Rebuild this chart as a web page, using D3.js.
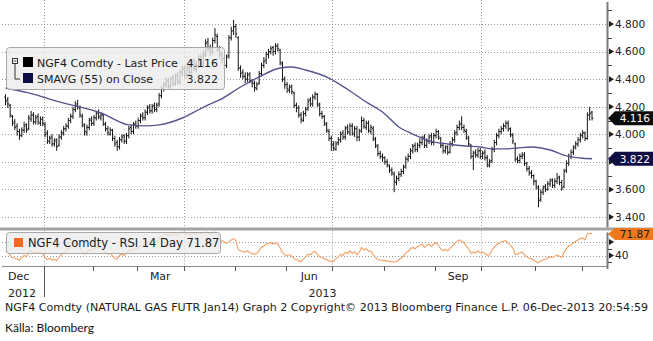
<!DOCTYPE html>
<html>
<head>
<meta charset="utf-8">
<script src="https://cdn.jsdelivr.net/npm/d3@7"></script>
<style>
  body { margin: 0; background: #fff; }
  svg { display: block; }
  text { font-family: "DejaVu Sans", sans-serif; }
</style>
</head>
<body>
<svg id="chart" width="653" height="341"></svg>
<script>
// NGF4 daily OHLC, 06-Dec-2012 .. 06-Dec-2013 (one entry per trading day)
const open = [
  4.27,4.25,4.21,4.13,4.09,4.06,4.02,3.99,4.03,4.07,4.04,4.11,4.14,4.09,4.13,4.08,4.11,
  4.07,4.01,3.95,3.98,3.93,3.96,3.92,3.98,4.01,4.04,4.06,4.10,4.13,4.18,4.22,4.19,4.13,4.06,4.01,4.05,4.11,
  4.08,4.12,4.16,4.12,4.14,4.07,4.04,4.00,4.03,3.97,3.94,3.91,3.96,3.99,3.95,3.99,4.05,4.02,4.08,
  4.06,4.10,4.14,4.12,4.16,4.20,4.17,4.21,4.18,4.22,4.28,4.33,4.36,4.39,4.35,4.41,4.37,4.43,4.38,4.45,
  4.48,4.43,4.49,4.45,4.53,4.47,4.50,4.56,4.51,4.58,4.67,4.62,4.60,4.68,4.71,4.61,4.58,4.55,4.50,4.57,4.70,4.75,
  4.78,4.70,4.48,4.45,4.42,4.40,4.44,4.38,4.37,4.33,4.37,4.44,4.50,4.54,4.58,4.60,4.63,4.60,4.64,4.61,4.51,4.40,
  4.36,4.32,4.35,4.30,4.21,4.19,4.14,4.10,4.15,4.19,4.25,4.22,4.27,4.29,4.21,4.15,4.13,4.07,4.02,3.97,
  3.93,3.89,3.94,3.96,4.01,3.98,4.05,4.01,4.06,4.00,4.04,3.98,4.03,4.10,4.05,4.08,4.02,4.04,3.96,3.91,3.86,3.84,
  3.83,3.80,3.77,3.74,3.71,3.65,3.68,3.71,3.73,3.77,3.82,3.84,3.88,3.92,3.89,3.92,3.94,3.98,3.92,3.95,3.99,3.94,
  3.99,4.02,3.97,3.92,3.88,3.91,3.87,3.93,3.96,4.01,4.05,4.08,4.05,4.02,3.97,3.92,3.84,3.87,3.85,3.88,
  3.84,3.87,3.83,3.77,3.81,3.89,3.94,3.99,4.02,4.04,4.06,4.08,4.04,3.99,3.93,3.82,3.81,3.84,3.85,3.79,3.75,3.72,3.70,
  3.66,3.61,3.53,3.58,3.62,3.60,3.64,3.67,3.63,3.66,3.69,3.65,3.62,3.74,3.79,3.84,3.87,3.91,3.93,3.96,
  3.99,4.01,3.97,4.14,4.16
];
const high = [
  4.29,4.27,4.22,4.14,4.11,4.08,4.04,4.05,4.09,4.08,4.14,4.17,4.16,4.14,4.15,4.13,4.13,
  4.09,4.03,3.99,4.00,3.97,3.97,4.00,4.03,4.06,4.08,4.12,4.15,4.20,4.24,4.25,4.21,4.15,4.08,4.07,4.12,4.13,
  4.14,4.17,4.18,4.16,4.15,4.09,4.06,4.05,4.04,3.99,3.96,3.98,4.00,4.00,4.01,4.06,4.07,4.09,4.10,
  4.12,4.15,4.16,4.18,4.21,4.22,4.22,4.23,4.23,4.30,4.35,4.38,4.41,4.41,4.42,4.43,4.44,4.45,4.47,4.50,
  4.50,4.50,4.51,4.54,4.55,4.53,4.58,4.58,4.61,4.69,4.70,4.65,4.70,4.77,4.73,4.64,4.60,4.57,4.58,4.72,4.78,4.83,
  4.80,4.71,4.50,4.47,4.45,4.45,4.45,4.40,4.39,4.38,4.46,4.52,4.56,4.60,4.62,4.64,4.64,4.66,4.66,4.62,4.53,4.42,
  4.38,4.36,4.36,4.31,4.23,4.21,4.16,4.17,4.20,4.26,4.27,4.29,4.31,4.30,4.23,4.17,4.14,4.09,4.04,3.99,
  3.95,3.95,3.98,4.02,4.03,4.06,4.07,4.08,4.08,4.06,4.06,4.04,4.13,4.12,4.10,4.10,4.07,4.06,3.98,3.93,3.88,3.86,
  3.84,3.82,3.78,3.76,3.73,3.70,3.73,3.75,3.78,3.84,3.86,3.90,3.93,3.94,3.94,3.97,3.99,4.00,3.97,4.00,4.01,4.01,
  4.04,4.03,3.98,3.94,3.92,3.92,3.95,3.98,4.03,4.07,4.10,4.13,4.07,4.04,3.99,3.93,3.88,3.89,3.90,3.90,
  3.88,3.89,3.85,3.82,3.91,3.96,4.01,4.04,4.06,4.08,4.10,4.10,4.05,4.01,3.94,3.84,3.86,3.87,3.87,3.80,3.77,3.74,3.71,
  3.67,3.63,3.60,3.63,3.64,3.66,3.68,3.68,3.68,3.72,3.70,3.67,3.75,3.81,3.86,3.89,3.92,3.95,3.98,4.01,
  4.03,4.02,4.16,4.20,4.17
];
const low = [
  4.21,4.19,4.12,4.06,4.03,3.99,3.96,3.98,4.01,4.01,4.03,4.09,4.07,4.07,4.07,4.06,4.06,
  3.98,3.93,3.93,3.91,3.91,3.88,3.91,3.96,3.99,4.02,4.04,4.08,4.11,4.16,4.18,4.12,4.05,3.99,3.99,4.03,4.06,
  4.06,4.10,4.11,4.10,4.06,4.02,3.99,3.99,3.95,3.91,3.88,3.89,3.94,3.93,3.93,3.97,4.00,4.00,4.04,
  4.04,4.08,4.10,4.10,4.14,4.15,4.15,4.16,4.16,4.20,4.26,4.31,4.34,4.33,4.33,4.35,4.35,4.36,4.36,4.42,
  4.40,4.41,4.43,4.43,4.46,4.45,4.48,4.50,4.49,4.56,4.60,4.57,4.58,4.66,4.60,4.55,4.52,4.47,4.48,4.55,4.68,4.72,
  4.70,4.46,4.41,4.40,4.37,4.38,4.37,4.34,4.31,4.32,4.36,4.42,4.48,4.51,4.55,4.58,4.57,4.58,4.60,4.50,4.38,4.33,
  4.30,4.30,4.29,4.19,4.16,4.12,4.08,4.09,4.13,4.17,4.20,4.20,4.25,4.20,4.13,4.11,4.06,4.01,3.95,3.88,
  3.88,3.88,3.92,3.94,3.96,3.96,4.00,3.99,3.99,3.98,3.95,3.95,4.01,4.04,4.03,4.01,4.00,3.95,3.90,3.84,3.82,3.80,
  3.78,3.76,3.72,3.70,3.58,3.63,3.66,3.69,3.71,3.75,3.80,3.82,3.86,3.87,3.87,3.90,3.92,3.90,3.90,3.93,3.92,3.92,
  3.97,3.96,3.90,3.86,3.86,3.85,3.86,3.91,3.94,3.99,4.03,4.03,4.01,3.96,3.91,3.82,3.74,3.83,3.83,3.82,
  3.82,3.81,3.76,3.76,3.79,3.87,3.92,3.97,4.00,4.02,4.04,4.02,3.98,3.93,3.80,3.79,3.79,3.82,3.77,3.73,3.70,3.68,3.63,
  3.60,3.47,3.51,3.56,3.58,3.59,3.62,3.61,3.61,3.64,3.63,3.59,3.61,3.72,3.77,3.82,3.85,3.89,3.91,3.94,
  3.97,3.95,3.96,4.10,4.10
];
const close = [
  4.24,4.22,4.14,4.08,4.05,4.02,3.99,4.03,4.06,4.03,4.12,4.14,4.09,4.12,4.09,4.11,4.08,
  4.00,3.95,3.97,3.93,3.95,3.91,3.98,4.01,4.04,4.06,4.10,4.13,4.18,4.21,4.20,4.14,4.07,4.02,4.05,4.10,4.08,
  4.12,4.15,4.13,4.14,4.08,4.04,4.01,4.03,3.97,3.93,3.91,3.96,3.98,3.95,3.99,4.04,4.02,4.07,4.06,
  4.10,4.13,4.12,4.16,4.19,4.17,4.20,4.18,4.21,4.28,4.33,4.36,4.38,4.35,4.40,4.37,4.42,4.38,4.45,4.47,
  4.43,4.48,4.45,4.52,4.48,4.50,4.55,4.52,4.58,4.66,4.62,4.60,4.68,4.72,4.62,4.58,4.55,4.50,4.56,4.70,4.75,4.78,
  4.73,4.48,4.44,4.42,4.40,4.43,4.39,4.37,4.34,4.36,4.44,4.50,4.53,4.58,4.60,4.62,4.60,4.64,4.62,4.52,4.40,4.36,
  4.33,4.34,4.31,4.21,4.19,4.14,4.11,4.15,4.18,4.24,4.22,4.27,4.29,4.22,4.15,4.13,4.08,4.03,3.97,3.92,
  3.90,3.93,3.96,4.00,3.98,4.04,4.02,4.06,4.01,4.04,3.98,4.02,4.10,4.06,4.08,4.03,4.05,3.97,3.92,3.86,3.84,3.83,
  3.80,3.78,3.74,3.72,3.66,3.68,3.71,3.73,3.76,3.82,3.84,3.88,3.91,3.89,3.92,3.94,3.97,3.92,3.95,3.98,3.94,3.99,
  4.02,3.98,3.92,3.88,3.90,3.87,3.93,3.96,4.01,4.05,4.07,4.05,4.03,3.98,3.93,3.84,3.86,3.85,3.88,3.84,
  3.86,3.83,3.78,3.80,3.89,3.94,3.99,4.02,4.04,4.06,4.08,4.04,4.00,3.95,3.82,3.81,3.84,3.85,3.79,3.75,3.72,3.70,3.66,
  3.62,3.52,3.58,3.61,3.60,3.64,3.66,3.63,3.66,3.68,3.65,3.61,3.73,3.79,3.84,3.87,3.90,3.93,3.96,3.99,
  4.01,3.97,4.14,4.15,4.116
];
// 14-day RSI, one value per trading day
const rsi = [
  47,45,40,37,36,35,33,37,40,38,45,47,43,46,43,45,42,
  37,34,36,33,35,32,38,41,44,46,50,52,56,58,57,52,46,42,45,49,47,
  50,53,51,52,47,44,42,44,39,36,35,40,42,40,44,48,46,50,49,
  52,55,54,57,60,58,61,59,61,66,69,71,72,69,72,70,73,70,74,75,
  71,73,71,74,72,72,74,72,74,75,73,72,74,75,70,64,62,60,58,61,63,65,
  62,49,47,46,45,47,44,43,42,43,48,52,54,57,58,59,57,59,57,51,44,41,
  40,41,39,35,34,32,31,35,38,42,41,45,46,42,38,37,35,34,32,31,
  32,35,38,42,40,45,43,47,43,46,41,45,52,48,50,46,47,41,37,34,33,33,
  32,32,31,31,30,31,34,36,39,44,46,50,52,50,53,55,57,52,55,57,53,57,
  59,55,50,47,49,47,51,54,58,61,63,61,59,54,50,43,45,44,47,44,
  45,43,40,41,48,52,56,58,60,61,62,58,55,51,42,42,44,45,41,38,36,35,33,
  31,29,32,34,34,37,38,37,39,41,39,37,45,50,54,56,59,61,63,65,
  66,63,72,73,71.87
];
// 55-day simple moving average of the close, sampled at trading-day indices
const smaIndex = [0,10,23,41,53,60,66,76,86,92,101,109,118,123,129,139,148,155,162,169,175,182,190,198,204,209,215,220,226,234,241,247,252];
const smaValue = [4.336,4.300,4.235,4.155,4.068,4.061,4.068,4.118,4.205,4.249,4.343,4.416,4.481,4.488,4.466,4.408,4.314,4.234,4.162,4.053,4.002,3.952,3.930,3.915,3.908,3.894,3.894,3.901,3.908,3.886,3.843,3.828,3.822];

const priceTicks = [3.4, 3.6, 3.8, 4.0, 4.2, 4.4, 4.6, 4.8];
const priceMinor = [3.5, 3.7, 3.9, 4.1, 4.3, 4.5, 4.7, 4.9];
const rsiTicks = [40, 60];
const rsiMinor = [30, 50];
const exchangeHolidays = ["2012-12-25","2013-01-01","2013-01-21","2013-02-18","2013-03-29","2013-05-27","2013-07-04","2013-09-02","2013-11-28"];
const monthNames = ["Jan","Feb","Mar","Apr","May","Jun","Jul","Aug","Sep","Oct","Nov","Dec"];
const labelledMonths = [11, 2, 5, 8];

const lastPrice = close[close.length - 1];
const lastSma = smaValue[smaValue.length - 1];
const lastRsi = rsi[rsi.length - 1];

// trading calendar
const fmtDay = d3.timeFormat("%Y-%m-%d");
const holidaySet = new Set(exchangeHolidays);
const days = d3.timeDay.range(new Date(2012, 11, 6), new Date(2013, 11, 7))
  .filter(d => d.getDay() !== 0 && d.getDay() !== 6 && !holidaySet.has(fmtDay(d)));

const W = 653, H = 341;
const AX = 607;                       // right axis position
const MAIN_TOP = 0, MAIN_BOT = 227.5;
const RSI_TOP = 230.5, RSI_BOT = 266;

const x = d3.scaleLinear().domain([0, days.length - 1]).range([5.5, 592]);
const step = x(1) - x(0);
const y = d3.scaleLinear().domain([3.4, 4.8]).range([217, 24]);
const yr = d3.scaleLinear().domain([40, 60]).range([255.5, 242]);

const svg = d3.select("#chart");
svg.append("rect").attr("width", W).attr("height", H).attr("fill", "#fff");

const defs = svg.append("defs");
defs.append("clipPath").attr("id", "clipMain").append("rect")
  .attr("x", 0).attr("y", MAIN_TOP).attr("width", AX).attr("height", MAIN_BOT - MAIN_TOP);
defs.append("clipPath").attr("id", "clipRsi").append("rect")
  .attr("x", 0).attr("y", RSI_TOP + 1).attr("width", AX).attr("height", RSI_BOT - RSI_TOP - 1);

// month boundaries
const bounds = [];
for (let i = 1; i < days.length; i++) {
  if (days[i].getMonth() !== days[i - 1].getMonth()) bounds.push({ i, m: days[i].getMonth(), xb: x(i) - step / 2 });
}
const quarterBounds = bounds.filter(b => b.m % 3 === 0);

const grid = svg.append("g").attr("stroke", "#9a9a9a").attr("stroke-width", 1).attr("stroke-dasharray", "1,2");
grid.selectAll("line.hp").data(priceTicks).join("line")
  .attr("x1", 2).attr("x2", AX).attr("y1", d => Math.round(y(d)) + 0.5).attr("y2", d => Math.round(y(d)) + 0.5);
grid.selectAll("line.hr").data(rsiTicks).join("line")
  .attr("x1", 2).attr("x2", AX).attr("y1", d => Math.round(yr(d)) + 0.5).attr("y2", d => Math.round(yr(d)) + 0.5);
grid.selectAll("line.vm").data(quarterBounds).join("line")
  .attr("x1", d => Math.round(d.xb) + 0.5).attr("x2", d => Math.round(d.xb) + 0.5)
  .attr("y1", MAIN_TOP).attr("y2", MAIN_BOT);
grid.selectAll("line.vr").data(quarterBounds).join("line")
  .attr("x1", d => Math.round(d.xb) + 0.5).attr("x2", d => Math.round(d.xb) + 0.5)
  .attr("y1", RSI_TOP).attr("y2", RSI_BOT);

// price panel: OHLC bars and moving average
const gMain = svg.append("g").attr("clip-path", "url(#clipMain)");
gMain.append("g").selectAll("path").data(d3.range(close.length)).join("path")
  .attr("d", i => `M${x(i)},${y(high[i])}V${y(low[i])}M${x(i) - 1.3},${y(open[i])}H${x(i)}M${x(i)},${y(close[i])}H${x(i) + 1.3}`)
  .attr("fill", "none").attr("stroke", "#141414").attr("stroke-width", 1);

const smaLine = d3.line().x(d => x(d[0])).y(d => y(d[1])).curve(d3.curveMonotoneX);
gMain.append("path").datum(smaIndex.map((k, j) => [k, smaValue[j]]))
  .attr("d", smaLine).attr("fill", "none").attr("stroke", "#55558f").attr("stroke-width", 1.4);

// rsi panel
const gRsi = svg.append("g").attr("clip-path", "url(#clipRsi)");
gRsi.append("path").datum(rsi)
  .attr("d", d3.line().x((d, i) => x(i)).y(d => yr(d)))
  .attr("fill", "none").attr("stroke", "#f4a064").attr("stroke-width", 1.1);

// panel separator
svg.append("rect").attr("x", 0).attr("y", MAIN_BOT).attr("width", W).attr("height", 3).attr("fill", "#a3a3a3");

// bottom time axis
svg.append("line").attr("x1", 2).attr("x2", AX).attr("y1", RSI_BOT + 0.5).attr("y2", RSI_BOT + 0.5)
  .attr("stroke", "#8c8c8c");
svg.append("g").selectAll("line").data(bounds).join("line")
  .attr("x1", d => Math.round(d.xb) + 0.5).attr("x2", d => Math.round(d.xb) + 0.5)
  .attr("y1", RSI_BOT).attr("y2", d => d.m === 0 ? 297 : 271)
  .attr("stroke", "#555");

// month labels
const segs = [];
let s0 = 0;
bounds.forEach(b => { segs.push({ s: s0, e: b.i - 1, m: days[s0].getMonth() }); s0 = b.i; });
segs.push({ s: s0, e: days.length - 1, m: days[s0].getMonth() });
const labelSegs = segs.filter((d, k) => labelledMonths.includes(d.m) && k < segs.length - 1);
svg.append("g").selectAll("text").data(labelSegs).join("text")
  .attr("x", (d, k) => k === 0 ? 8 : (x(d.s) + x(d.e)) / 2)
  .attr("text-anchor", (d, k) => k === 0 ? "start" : "middle")
  .attr("y", 280).attr("font-size", 11).attr("fill", "#222")
  .text(d => monthNames[d.m]);
// year labels
const janIdx = bounds.find(b => b.m === 0).i;
svg.append("text").attr("x", 8).attr("y", 297).attr("font-size", 11).attr("fill", "#222").text(days[0].getFullYear());
svg.append("text").attr("x", (x(janIdx) + x(days.length - 1)) / 2 + 4).attr("y", 297)
  .attr("text-anchor", "middle").attr("font-size", 11).attr("fill", "#222").text(days[janIdx].getFullYear());

// right axes
svg.append("line").attr("x1", AX + 0.5).attr("x2", AX + 0.5).attr("y1", 2).attr("y2", MAIN_BOT)
  .attr("stroke", "#7a7a7a").attr("stroke-width", 2);
svg.append("line").attr("x1", AX + 0.5).attr("x2", AX + 0.5).attr("y1", RSI_TOP + 2).attr("y2", RSI_BOT + 3)
  .attr("stroke", "#7a7a7a").attr("stroke-width", 2);

// labels sitting under a last-value tag are left out
const tagLevels = [y(lastPrice), y(lastSma)];
const visibleTicks = priceTicks.filter(d => tagLevels.every(t => Math.abs(y(d) - t) > 6));

const axisG = svg.append("g");
function arrow(yy) {
  return `M${AX + 2},${yy - 3}L${AX + 7},${yy}L${AX + 2},${yy + 3}Z`;
}
axisG.selectAll("path.pm").data(priceTicks).join("path").attr("d", d => arrow(y(d))).attr("fill", "#1a1a1a");
axisG.selectAll("line.pn").data(priceMinor).join("line")
  .attr("x1", AX + 1).attr("x2", AX + 5).attr("y1", d => Math.round(y(d)) + 0.5).attr("y2", d => Math.round(y(d)) + 0.5)
  .attr("stroke", "#444");
axisG.selectAll("text.pt").data(visibleTicks).join("text")
  .attr("x", 615).attr("y", d => y(d)).attr("dy", "0.36em")
  .attr("font-size", 10.6).attr("fill", "#222").text(d => d3.format(".3f")(d));
axisG.selectAll("path.rm").data(rsiTicks).join("path").attr("d", d => arrow(yr(d))).attr("fill", "#1a1a1a");
axisG.selectAll("line.rn").data(rsiMinor).join("line")
  .attr("x1", AX + 1).attr("x2", AX + 5).attr("y1", d => Math.round(yr(d)) + 0.5).attr("y2", d => Math.round(yr(d)) + 0.5)
  .attr("stroke", "#444");
axisG.selectAll("text.rt").data(rsiTicks.filter(d => d === 40)).join("text")
  .attr("x", 615).attr("y", d => yr(d)).attr("dy", "0.36em")
  .attr("font-size", 10.6).attr("fill", "#222").text(d => d);

// last-value tags
function tag(yc, h, fill, color, label) {
  const g = svg.append("g");
  g.append("path")
    .attr("d", `M${AX + 1},${yc}L${AX + 8},${yc - h / 2}H${W}V${yc + h / 2}H${AX + 8}Z`)
    .attr("fill", fill);
  g.append("text").attr("x", W - 3).attr("y", yc).attr("dy", "0.36em").attr("text-anchor", "end")
    .attr("font-size", 10.6).attr("fill", color).text(label);
}
tag(y(lastPrice), 14, "#0c0c0c", "#fff", d3.format(".3f")(lastPrice));
tag(y(lastSma), 14, "#0e0e45", "#fff", d3.format(".3f")(lastSma));
tag(yr(lastRsi), 12, "#f0781e", "#1a1a1a", d3.format(".2f")(lastRsi));

// price legend
const lg = svg.append("g");
lg.append("rect").attr("x", 6.5).attr("y", 47.5).attr("width", 218).attr("height", 42).attr("rx", 3)
  .attr("fill", "#ececec").attr("fill-opacity", 0.78).attr("stroke", "#a8a8a8");
lg.append("rect").attr("x", 12.5).attr("y", 58.5).attr("width", 5).attr("height", 5).attr("fill", "#fff").attr("stroke", "#333");
lg.append("line").attr("x1", 13.5).attr("x2", 16.5).attr("y1", 61).attr("y2", 61).attr("stroke", "#333");
lg.append("path").attr("d", "M15,64V79H20").attr("fill", "none").attr("stroke", "#333");
lg.append("rect").attr("x", 23).attr("y", 57).attr("width", 10).attr("height", 10).attr("fill", "#000");
lg.append("rect").attr("x", 23).attr("y", 73).attr("width", 10).attr("height", 10).attr("fill", "#0e0e45");
lg.append("text").attr("x", 37).attr("y", 66.5).attr("font-size", 11).attr("fill", "#1a1a1a").text("NGF4 Comdty - Last Price");
lg.append("text").attr("x", 218).attr("y", 66.5).attr("text-anchor", "end").attr("font-size", 11).attr("fill", "#1a1a1a").text(d3.format(".3f")(lastPrice));
lg.append("text").attr("x", 37).attr("y", 82.5).attr("font-size", 11).attr("fill", "#1a1a1a").text("SMAVG (55) on Close");
lg.append("text").attr("x", 218).attr("y", 82.5).attr("text-anchor", "end").attr("font-size", 11).attr("fill", "#1a1a1a").text(d3.format(".3f")(lastSma));

// rsi legend
const lr = svg.append("g");
lr.append("rect").attr("x", 6.5).attr("y", 232.5).attr("width", 214).attr("height", 21).attr("rx", 3)
  .attr("fill", "#ececec").attr("fill-opacity", 0.78).attr("stroke", "#a8a8a8");
lr.append("rect").attr("x", 14).attr("y", 238).attr("width", 9).attr("height", 9).attr("fill", "#f26b1d");
lr.append("text").attr("x", 28).attr("y", 247).attr("font-size", 11.5).attr("fill", "#1a1a1a")
  .text("NGF4 Comdty - RSI 14 Day " + d3.format(".2f")(lastRsi));

// footer
svg.append("text").attr("x", 5).attr("y", 311).attr("font-size", 10.5).attr("fill", "#1a1a1a")
  .attr("textLength", 643).attr("lengthAdjust", "spacingAndGlyphs")
  .text("NGF4 Comdty (NATURAL GAS FUTR  Jan14) Graph 2  Copyright\u00a9 2013 Bloomberg Finance L.P.  06-Dec-2013 20:54:59");
svg.append("text").attr("x", 5).attr("y", 332).attr("font-size", 12).attr("fill", "#111")
  .style("font-family", "Lato, 'Liberation Sans', sans-serif")
  .text("Källa: Bloomberg");
</script>
</body>
</html>
